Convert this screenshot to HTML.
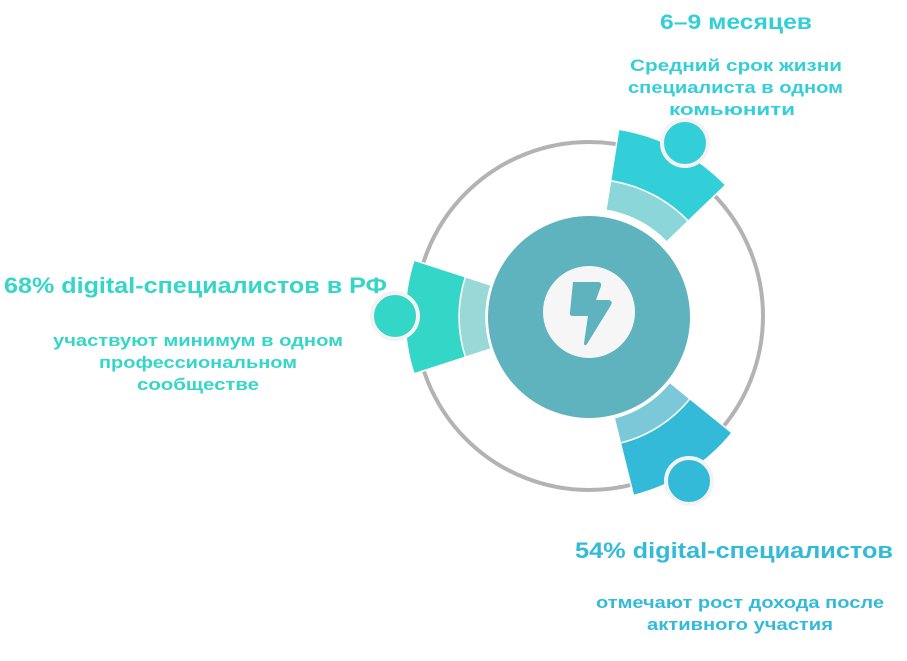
<!DOCTYPE html>
<html><head><meta charset="utf-8"><style>
html,body{margin:0;padding:0;background:#fff;}
svg{display:block;}
text{font-family:"Liberation Sans",sans-serif;font-weight:bold;}
</style></head><body>
<svg id="s" width="907" height="661" viewBox="0 0 907 661" xmlns="http://www.w3.org/2000/svg">
<circle cx="589" cy="316" r="174" fill="none" stroke="#b3b3b3" stroke-width="4"/>
<g id="segs"></g>
<circle cx="589" cy="317" r="101" fill="#5eb3bf"/>
<circle cx="589" cy="312" r="46" fill="#f6f6f6"/>
<path d="M573 282 L599 282 Q602 283 601 286 L596 300 L609 300 Q613 301 611 305 L587 344 Q584 347 584 343 L588 316 L573 316 Q569 316 570 312 Z" fill="#5eb3bf"/>
<circle cx="685" cy="143" r="23" fill="#33cfd9" stroke="#f3f3f3" stroke-width="4"/>
<circle cx="395" cy="316" r="23" fill="#34d6c8" stroke="#f3f3f3" stroke-width="4"/>
<circle cx="689" cy="481" r="23" fill="#33bad9" stroke="#f3f3f3" stroke-width="4"/>
<text x="660" y="29" font-size="21" fill="#33cfd9" textLength="152" lengthAdjust="spacingAndGlyphs">6–9 месяцев</text>
<g font-size="17" fill="#33cfd9">
<text x="630" y="71" textLength="212" lengthAdjust="spacingAndGlyphs">Средний срок жизни</text>
<text x="628" y="93" textLength="215" lengthAdjust="spacingAndGlyphs">специалиста в одном</text>
<text x="669" y="115" textLength="126" lengthAdjust="spacingAndGlyphs">комьюнити</text>
</g>
<text x="4" y="293" font-size="22" fill="#34d6c8" textLength="383" lengthAdjust="spacingAndGlyphs">68% digital-специалистов в РФ</text>
<g font-size="17" fill="#34d6c8">
<text x="53" y="346" textLength="290" lengthAdjust="spacingAndGlyphs">участвуют минимум в одном</text>
<text x="99" y="368" textLength="198" lengthAdjust="spacingAndGlyphs">профессиональном</text>
<text x="137" y="390" textLength="122" lengthAdjust="spacingAndGlyphs">сообществе</text>
</g>
<text x="575" y="558" font-size="22" fill="#33bad9" textLength="318" lengthAdjust="spacingAndGlyphs">54% digital-специалистов</text>
<g font-size="17" fill="#33bad9">
<text x="596" y="608" textLength="288" lengthAdjust="spacingAndGlyphs">отмечают рост дохода после</text>
<text x="647" y="630" textLength="186" lengthAdjust="spacingAndGlyphs">активного участия</text>
</g>
</svg>
<script>
(function(){
var cx=589,cy=317,NS="http://www.w3.org/2000/svg";
function p(r,a){a=a*Math.PI/180;return (cx+r*Math.cos(a)).toFixed(1)+" "+(cy+r*Math.sin(a)).toFixed(1);}
function sec(a1,a2,r1,r2,fill){
var d="M"+p(r1,a1)+" L"+p(r2,a1)+" A"+r2+" "+r2+" 0 0 1 "+p(r2,a2)+" L"+p(r1,a2)+" A"+r1+" "+r1+" 0 0 0 "+p(r1,a1)+"Z";
var e=document.createElementNS(NS,"path");e.setAttribute("d",d);e.setAttribute("fill",fill);
e.setAttribute("stroke","#fff");e.setAttribute("stroke-width","1.5");
document.getElementById("segs").appendChild(e);}
sec(-81,-44,108,138,"#8ad6d8");
sec(-81,-44,138,190,"#33cfd9");
sec(162,198,103,130,"#98d8d6");
sec(162,198,130,184,"#34d6c8");
sec(39,76,104,130,"#7bc8d8");
sec(39,76,130,184,"#33bad9");
})();
</script>
</body></html>
